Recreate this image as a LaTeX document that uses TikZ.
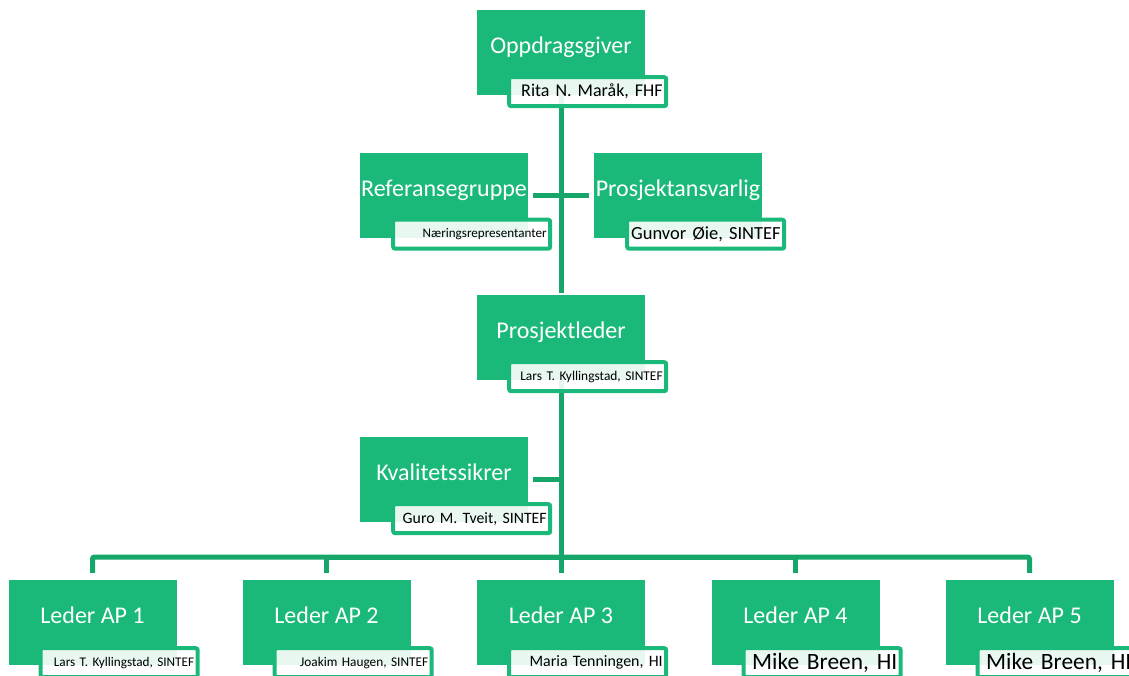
\documentclass[tikz,border=0pt]{standalone}
\usepackage{fontspec}
\setmainfont{Carlito}
\usetikzlibrary{backgrounds}
\definecolor{boxgreen}{RGB}{26,185,121}
\definecolor{linegreen}{RGB}{22,166,106}
\frenchspacing

\tikzset{
	boss/.style={fill=boxgreen, text=white, minimum width=168pt, minimum height=85pt, inner sep=0pt,
		font=\fontsize{24}{24}\selectfont, text height=11pt, text depth=9pt},
	tag/.style={draw=boxgreen, line width=4pt, rounded corners=2pt, fill=white, fill opacity=0.9,
		text opacity=1, text=black, text width=150pt, align=right, inner xsep=3.5pt, inner ysep=0pt,
		minimum height=29pt, anchor=north east, font=\fontsize{#1}{#1}\selectfont\frenchspacing},
	wire/.style={linegreen, line width=5pt}
}

\begin{document}
\begin{tikzpicture}[x=1pt,y=-1pt]
		\useasboundingbox (0,0) rectangle (1129,675);
		\clip (0,0) rectangle (1129,675);

		\node[boss] (op) at (561,52.5) {Oppdragsgiver};
		\node[tag=18] (opwho) at ([shift={(23,-20)}]op.south east) {Rita N. Maråk, FHF};

		\node[boss] (ref) at (444,195) {Referansegruppe};
		\node[tag=13.1] (refwho) at ([shift={(24,-20)}]ref.south east) {Næringsrepresentanter};
		\node[boss] (pa) at (678,195) {Prosjektansvarlig};
		\node[tag=18.5] (pawho) at ([shift={(24,-20)}]pa.south east) {Gunvor Øie, SINTEF};

		\node[boss] (pl) at (561,337.5) {Prosjektleder};
		\node[tag=13.4] (plwho) at ([shift={(23,-20)}]pl.south east) {Lars T. Kyllingstad, SINTEF};

		\node[boss] (kv) at (444,479.5) {Kvalitetssikrer};
		\node[tag=15.8] (kvwho) at ([shift={(24,-20)}]kv.south east) {Guro M. Tveit, SINTEF};

		\node[boss] (ap1) at (92.5,622.5) {Leder AP 1};
		\node[tag=13.2] (ap1who) at ([shift={(23,-19)}]ap1.south east) {Lars T. Kyllingstad, SINTEF};
		\node[boss] (ap2) at (326.5,622.5) {Leder AP 2};
		\node[tag=13.3] (ap2who) at ([shift={(23,-19)}]ap2.south east) {Joakim Haugen, SINTEF};
		\node[boss] (ap3) at (561,622.5) {Leder AP 3};
		\node[tag=15.9] (ap3who) at ([shift={(23,-19)}]ap3.south east) {Maria Tenningen, HI};
		\node[boss] (ap4) at (795.5,622.5) {Leder AP 4};
		\node[tag=23.4] (ap4who) at ([shift={(23,-19)}]ap4.south east) {Mike Breen, HI};
		\node[boss] (ap5) at (1029.5,622.5) {Leder AP 5};
		\node[tag=23.4] (ap5who) at ([shift={(23,-19)}]ap5.south east) {Mike Breen, HI};

		\coordinate (bar) at (561,557);

		% connectors go behind the boxes
		\begin{pgfonlayer}{background}
			\draw[wire,shorten >=2pt] (op.south) -- (pl.north);
			\draw[wire,shorten <=5pt,shorten >=5pt] (ref.east) -- (pa.west);
			\draw[wire] (pl.south) -- (bar);
			\draw[wire,shorten <=5pt] (kv.east) -- (kv.east -| bar);
			\draw[wire,rounded corners=2pt,shorten >=7pt] (bar) -| (ap1.north);
			\draw[wire,shorten >=7pt] (bar) -| (ap2.north);
			\draw[wire,shorten >=7pt] (bar) -- (ap3.north);
			\draw[wire,shorten >=7pt] (bar) -| (ap4.north);
			\draw[wire,rounded corners=2pt,shorten >=7pt] (bar) -| (ap5.north);
		\end{pgfonlayer}
	\end{tikzpicture}
\end{document}
